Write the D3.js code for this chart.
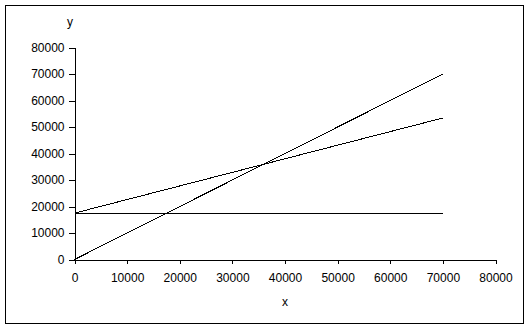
<!DOCTYPE html>
<html>
<head>
<meta charset="utf-8">
<script src="https://cdn.jsdelivr.net/npm/d3@7"></script>
<style>
  body { margin: 0; background: #fff; }
  svg { display: block; font-family: "Liberation Sans", Arial, sans-serif; }
  .axis text { font-size: 12px; fill: #000; font-family: "Liberation Sans", Arial, sans-serif; }
  .axis path, .axis line { stroke: #000; shape-rendering: crispEdges; }
</style>
</head>
<body>
<script>
// tick values for both axes
var xTicks = [0, 10000, 20000, 30000, 40000, 50000, 60000, 70000, 80000];
var yTicks = [0, 10000, 20000, 30000, 40000, 50000, 60000, 70000, 80000];

// three straight lines, each given by its two end points
var lineX = [0, 70000];
var lineA = [0, 70000];      // y = x
var lineB = [17500, 53400];  // rising from 17500
var lineC = [17500, 17500];  // flat

var width = 530, height = 329;

var svg = d3.select('body').append('svg')
  .attr('width', width)
  .attr('height', height);

// outer frame
svg.append('rect')
  .attr('x', 5.5).attr('y', 5.5)
  .attr('width', 518).attr('height', 318)
  .attr('fill', 'none').attr('stroke', '#000')
  .attr('shape-rendering', 'crispEdges');

var x = d3.scaleLinear().domain([0, 80000]).range([74.5, 495.5]);
var y = d3.scaleLinear().domain([0, 80000]).range([259.5, 47.5]);

svg.append('g')
  .attr('class', 'axis')
  .attr('transform', 'translate(0,' + y(0) + ')')
  .call(d3.axisBottom(x).tickValues(xTicks).tickSize(4).tickSizeOuter(0).tickPadding(10).tickFormat(d3.format('d')));

svg.append('g')
  .attr('class', 'axis')
  .attr('transform', 'translate(' + x(0) + ',0)')
  .call(d3.axisLeft(y).tickValues(yTicks).tickSize(6).tickSizeOuter(0).tickPadding(4).tickFormat(d3.format('d')));

var line = d3.line()
  .x(function(d){ return x(d[0]); })
  .y(function(d){ return y(d[1]); });

[lineA, lineB, lineC].forEach(function(ys){
  var pts = lineX.map(function(v, i){ return [v, ys[i]]; });
  svg.append('path')
    .attr('d', line(pts))
    .attr('fill', 'none')
    .attr('stroke', '#000')
    .attr('stroke-width', 1)
    .attr('shape-rendering', 'crispEdges');
});

// axis titles
svg.append('text').text('y')
  .attr('x', 70).attr('y', 26)
  .attr('text-anchor', 'middle')
  .style('font-size', '12px');

svg.append('text').text('x')
  .attr('x', 285).attr('y', 306)
  .attr('text-anchor', 'middle')
  .style('font-size', '12px');
</script>
</body>
</html>
